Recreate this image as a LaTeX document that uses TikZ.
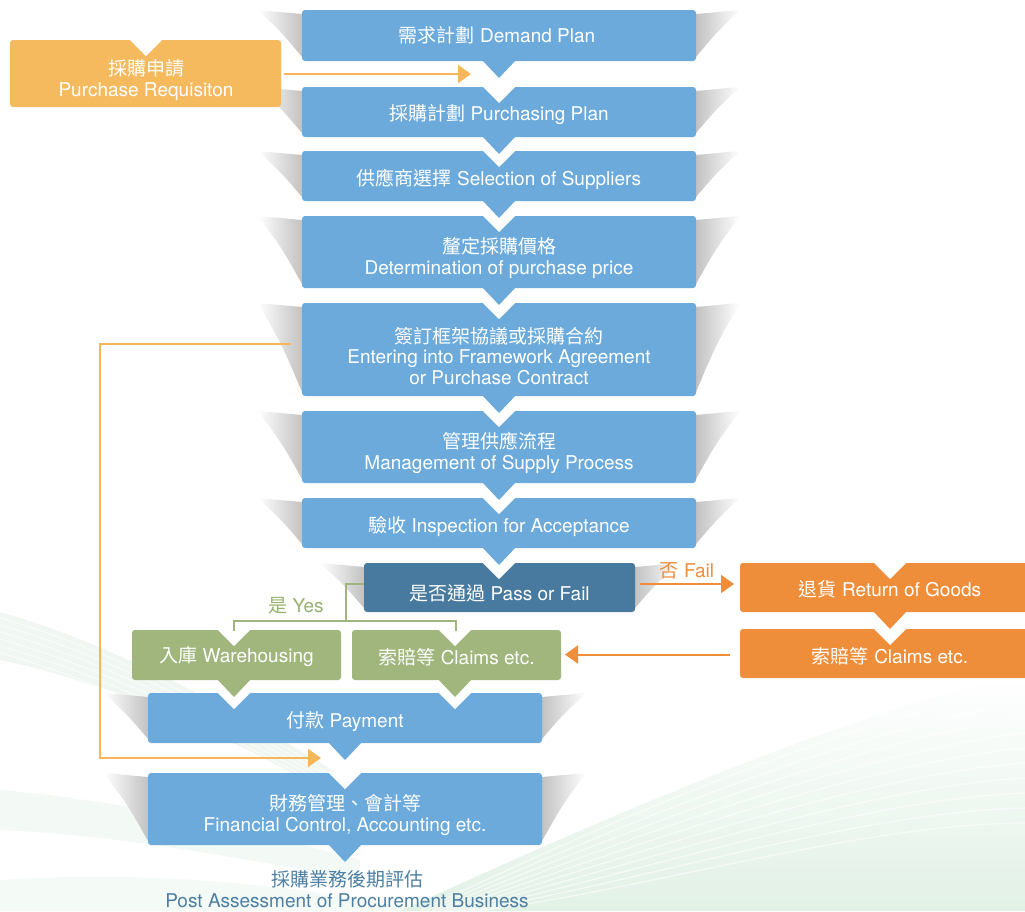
\documentclass[tikz,border=0pt]{standalone}
\usepackage{fontspec}
\setmainfont{TeX Gyre Heros}
\newfontfamily\cjk{Noto Sans CJK TC}
\usetikzlibrary{arrows.meta,calc}
\definecolor{cblue}{HTML}{6BAADB}
\definecolor{cdark}{HTML}{487A9F}
\definecolor{creq}{HTML}{F5B95E}
\definecolor{creqline}{HTML}{F7B65A}
\definecolor{corange}{HTML}{EF8E3A}
\definecolor{cgreen}{HTML}{A0B67C}
\definecolor{cgreenlbl}{HTML}{97B270}
\definecolor{cbottom}{HTML}{4D7FA3}
\definecolor{bggreen}{HTML}{E2F1E6}
\newcommand\notchat[2]{\fill[white] (#1-17,#2-1) -- (#1,#2+16) -- (#1+17,#2-1) -- cycle;}
\newcommand\tipat[3]{\fill[#1] (#2-17,#3-1) -- (#2,#3+17) -- (#2+17,#3-1) -- cycle;}
\newcommand\sideshadow[4]{%
 \shade[left color=black!24, right color=white] (#3,#2+4) -- (#3+44,#2) .. controls (#3+20,#2+0.45*#4-0.45*#2) .. (#3,#4-4) -- cycle;
 \shade[left color=white, right color=black!24] (#1,#2+4) -- (#1-44,#2) .. controls (#1-20,#2+0.45*#4-0.45*#2) .. (#1,#4-4) -- cycle;}
\tikzset{
  box/.style={rounded corners=3pt, inner sep=0pt, outer sep=0pt, draw=none},
  txt/.style={text=white, font=\fontsize{19}{20.5}\selectfont, align=center, inner sep=0pt},
  lbl/.style={font=\fontsize{19}{20.5}\selectfont, align=center, inner sep=0pt},
  reqline/.style={draw=creqline, line width=2pt},
  yesline/.style={draw=cgreen, line width=2pt},
  failline/.style={draw=corange, line width=2pt},
  tipR/.style={-{Triangle[length=13pt,width=18pt]}},
}
\begin{document}
\begin{tikzpicture}[x=1pt,y=-1pt]
\clip (0,0) rectangle (1025,911);
\fill[white] (0,0) rectangle (1025,911);
% background swooshes
\shade[top color=white, bottom color=bggreen] (400,911) .. controls (600,820) and (850,710) .. (1025,675) -- (1025,911) -- cycle;
\foreach \i in {0,...,9}
  \draw[white, line width=1.3pt, opacity=.6] (420+\i*6,911) .. controls (620,815+\i*9) and (860,715+\i*12) .. (1025,688+\i*15);
\fill[bggreen, opacity=.5] (0,612) .. controls (100,640) and (220,700) .. (340,775) -- (340,800) .. controls (220,730) and (100,680) .. (0,660) -- cycle;
\fill[bggreen, opacity=.4] (0,790) .. controls (120,800) and (250,830) .. (360,860) -- (360,880) .. controls (250,860) and (120,835) .. (0,830) -- cycle;
\fill[bggreen, opacity=.35] (0,880) .. controls (150,870) and (300,885) .. (420,911) -- (0,911) -- cycle;
\foreach \i in {0,...,5}
  \draw[white, line width=1pt, opacity=.6] (0,618+\i*7) .. controls (100,646+\i*7) and (220,706+\i*6) .. (340,780+\i*4);
% shadows
\sideshadow{302}{10}{696}{61}
\sideshadow{302}{87}{696}{137}
\sideshadow{302}{151}{696}{201}
\sideshadow{302}{216}{696}{288}
\sideshadow{302}{303}{696}{396}
\sideshadow{302}{411}{696}{483}
\sideshadow{302}{498}{696}{548}
\sideshadow{364}{563}{635}{612}
\sideshadow{148}{693}{542}{743}
\sideshadow{148}{773}{542}{845}
% boxes
\node[box, fill=cblue, minimum width=394pt, minimum height=51pt] (b1) at (499,35.5) {};
\node[box, fill=cblue, minimum width=394pt, minimum height=50pt] (b2) at (499,112) {};
\node[box, fill=cblue, minimum width=394pt, minimum height=50pt] (b3) at (499,176) {};
\node[box, fill=cblue, minimum width=394pt, minimum height=72pt] (b4) at (499,252) {};
\node[box, fill=cblue, minimum width=394pt, minimum height=93pt] (b5) at (499,349.5) {};
\node[box, fill=cblue, minimum width=394pt, minimum height=72pt] (b6) at (499,447) {};
\node[box, fill=cblue, minimum width=394pt, minimum height=50pt] (b7) at (499,523) {};
\node[box, fill=cdark, minimum width=271pt, minimum height=49pt] (pass) at (499.5,587.5) {};
\node[box, fill=creq, minimum width=271pt, minimum height=67pt] (req) at (145.5,73.5) {};
\node[box, fill=cgreen, minimum width=209pt, minimum height=50pt] (wh) at (236.5,655) {};
\node[box, fill=cgreen, minimum width=209pt, minimum height=50pt] (cg) at (456.5,655) {};
\node[box, fill=cblue, minimum width=394pt, minimum height=50pt] (pay) at (345,718) {};
\node[box, fill=cblue, minimum width=394pt, minimum height=72pt] (fin) at (345,809) {};
\node[box, fill=corange, minimum width=290pt, minimum height=49pt] (ret) at (885,587.5) {};
\node[box, fill=corange, minimum width=290pt, minimum height=49pt] (clo) at (885,653.5) {};
% notches
\notchat{499}{87}\notchat{499}{151}\notchat{499}{216}\notchat{499}{303}
\notchat{499}{411}\notchat{499}{498}\notchat{499}{563}
\notchat{146}{40}\notchat{234}{630}\notchat{455}{630}
\notchat{234}{693}\notchat{455}{693}\notchat{345}{773}
\notchat{890}{563}\notchat{890}{629}
% tips
\tipat{cblue}{499}{61}\tipat{cblue}{499}{137}\tipat{cblue}{499}{201}
\tipat{cblue}{499}{288}\tipat{cblue}{499}{396}\tipat{cblue}{499}{483}
\tipat{cblue}{499}{548}
\tipat{cgreen}{234}{680}\tipat{cgreen}{455}{680}
\tipat{cblue}{345}{743}\tipat{cblue}{345}{845}
\tipat{corange}{890}{612}
% texts
\node[txt] (b1t) at (497,35) {{\cjk 需求計劃} Demand Plan};
\node[txt] (b2t) at (499,115) {{\cjk 採購計劃} Purchasing Plan};
\node[txt] (b3t) at (499,179) {{\cjk 供應商選擇} Selection of Suppliers};
\node[txt] (b4t) at (499,258) {{\cjk 釐定採購價格}\\Determination of purchase price};
\node[txt] (b5t) at (499,356) {{\cjk 簽訂框架協議或採購合約}\\Entering into Framework Agreement\\or Purchase Contract};
\node[txt] (b6t) at (499,453) {{\cjk 管理供應流程}\\Management of Supply Process};
\node[txt] (b7t) at (499,526) {{\cjk 驗收} Inspection for Acceptance};
\node[txt] (passt) at (499.5,593) {{\cjk 是否通過} Pass or Fail};
\node[txt] (reqt) at (146,80) {{\cjk 採購申請}\\Purchase Requisiton};
\node[txt] (wht) at (236.5,657) {{\cjk 入庫} Warehousing};
\node[txt] (cgt) at (456.5,657) {{\cjk 索賠等} Claims etc.};
\node[txt] (payt) at (345,722) {{\cjk 付款} Payment};
\node[txt] (fint) at (345,815) {{\cjk 財務管理、會計等}\\Financial Control, Accounting etc.};
\node[txt] (rett) at (890,589) {{\cjk 退貨} Return of Goods};
\node[txt] (clot) at (890,656) {{\cjk 索賠等} Claims etc.};
\node[lbl, text=cbottom] (post) at (347,889) {{\cjk 採購業務後期評估}\\Post Assessment of Procurement Business};
\node[lbl, text=cgreenlbl] (yes) at (296,606) {{\cjk 是} Yes};
\node[lbl, text=corange] (fail) at (687,571) {{\cjk 否} Fail};
% connectors
\coordinate (reqin) at (471,74);
\draw[reqline, tipR] ([xshift=3pt]req.east |- reqin) -- (reqin);
\coordinate (fbstart) at (291,344);
\coordinate (fbend) at (321,758);
\draw[reqline, tipR] (fbstart) -- (100,344) |- (fbend);
\draw[yesline] ([yshift=3.5pt]pass.west) -| (346,621);
\coordinate (yw) at (234,631);
\coordinate (yc) at (456,631);
\draw[yesline] (yw) -- ++(0,-10) -| (yc);
\draw[failline, tipR] ([xshift=5pt,yshift=3.5pt]pass.east) -- ([xshift=-6pt,yshift=3.5pt]ret.west);
\coordinate (cA) at ([xshift=-10pt,yshift=-1pt]clo.west);
\draw[failline, tipR] (cA) -- ([xshift=4pt]cA -| cg.east);
\end{tikzpicture}
\end{document}
